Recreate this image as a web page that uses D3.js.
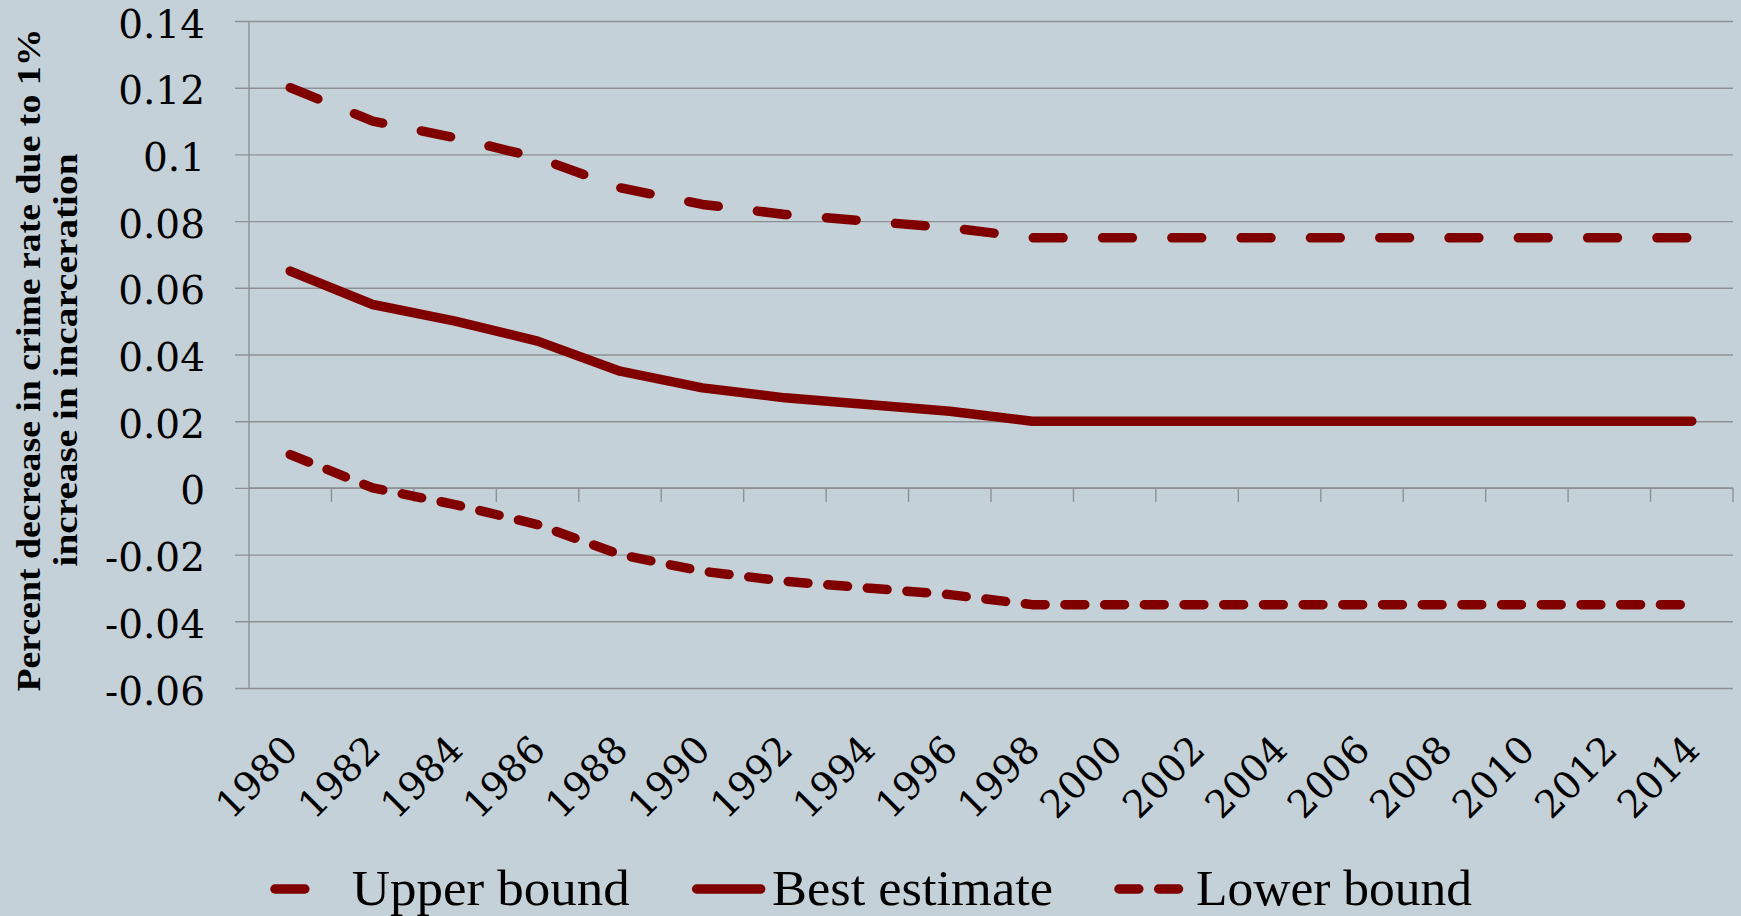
<!DOCTYPE html>
<html>
<head>
<meta charset="utf-8">
<script src="https://cdn.jsdelivr.net/npm/d3@7/dist/d3.min.js"></script>
<style>
  html, body { margin: 0; padding: 0; background: #c5d1d8; }
  svg { display: block; }
</style>
</head>
<body>
<svg id="chart" width="1741" height="916"></svg>
<script>
// ---- data ----
const years = ["1980","1982","1984","1986","1988","1990","1992","1994","1996","1998",
               "2000","2002","2004","2006","2008","2010","2012","2014"];
const upperBound   = [0.12, 0.11, 0.105, 0.099, 0.09, 0.085, 0.082, 0.08, 0.078, 0.075,
                      0.075, 0.075, 0.075, 0.075, 0.075, 0.075, 0.075, 0.075];
const bestEstimate = [0.065, 0.055, 0.05, 0.044, 0.035, 0.03, 0.027, 0.025, 0.023, 0.02,
                      0.02, 0.02, 0.02, 0.02, 0.02, 0.02, 0.02, 0.02];
const lowerBound   = [0.01, 0, -0.005, -0.011, -0.02, -0.025, -0.028, -0.03, -0.032, -0.035,
                      -0.035, -0.035, -0.035, -0.035, -0.035, -0.035, -0.035, -0.035];
const yTickValues = [0.14, 0.12, 0.1, 0.08, 0.06, 0.04, 0.02, 0, -0.02, -0.04, -0.06];
const yTickLabels = ["0.14","0.12","0.1","0.08","0.06","0.04","0.02","0","-0.02","-0.04","-0.06"];
const seriesNames = ["Upper bound", "Best estimate", "Lower bound"];
const yTitleLines = ["Percent decrease in crime rate due to 1%", "increase in incarceration"];

// ---- layout ----
const W = 1741, H = 916;
const plotL = 249, plotR = 1733, plotT = 21, plotB = 688;
const lineColor = "#800000";
const gridColor = "#8d9195";
const svg = d3.select("#chart");

svg.append("rect").attr("width", W).attr("height", H).attr("fill", "#c5d1d8");

const x = d3.scaleBand().domain(years).range([plotL, plotR]).padding(0);
const cx = d => x(d) + x.bandwidth() / 2;
const y = d3.scaleLinear().domain([-0.06, 0.14]).range([plotB, plotT]);

// gridlines + y labels via axis
const yAxis = d3.axisLeft(y)
  .tickValues(yTickValues)
  .tickSize(-(plotR - 235))
  .tickPadding(30)
  .tickFormat((d, i) => yTickLabels[i]);

const gy = svg.append("g").attr("transform", `translate(235,0)`).call(yAxis);
gy.select(".domain").remove();
gy.selectAll(".tick line").attr("stroke", gridColor).attr("stroke-width", 1.4);
gy.selectAll(".tick text")
  .attr("fill", "#000")
  .attr("font-family", "'DejaVu Serif', serif")
  .attr("font-size", 39)
  .attr("dy", null)
  .attr("y", 16);

// vertical axis line
svg.append("line")
  .attr("x1", plotL).attr("x2", plotL)
  .attr("y1", y(0.14)).attr("y2", y(-0.06))
  .attr("stroke", gridColor).attr("stroke-width", 1.4);

// horizontal axis at zero with ticks between categories
const y0 = y(0);
svg.append("line")
  .attr("x1", plotL).attr("x2", plotR)
  .attr("y1", y0).attr("y2", y0)
  .attr("stroke", gridColor).attr("stroke-width", 1.4);
const boundaries = years.map(d => x(d)).concat([x(years[years.length - 1]) + x.bandwidth()]);
svg.append("g").selectAll("line").data(boundaries.slice(1)).join("line")
  .attr("x1", d => d).attr("x2", d => d)
  .attr("y1", y0).attr("y2", y0 + 14)
  .attr("stroke", gridColor).attr("stroke-width", 1.4);

// x tick labels (rotated)
svg.append("g").selectAll("text").data(years).join("text")
  .attr("transform", d => `translate(${cx(d) + 10},752) rotate(-45)`)
  .attr("text-anchor", "end")
  .attr("font-family", "'DejaVu Serif', serif")
  .attr("font-size", 38)
  .attr("fill", "#000")
  .text(d => d);

// lines
const line = d3.line().x((d, i) => cx(years[i])).y(d => y(d));
const styles = [
  { data: upperBound, dash: "29.8,39.5" },
  { data: bestEstimate, dash: null },
  { data: lowerBound, dash: "19.8,19.9" }
];
styles.forEach(s => {
  svg.append("path")
    .datum(s.data)
    .attr("d", line)
    .attr("fill", "none")
    .attr("stroke", lineColor)
    .attr("stroke-width", 9.5)
    .attr("stroke-linecap", "round")
    .attr("stroke-linejoin", "round")
    .attr("stroke-dasharray", s.dash);
});

// y-axis title
const titleLen = [663, 413];
const titleBase = [40, 77];
yTitleLines.forEach((t, i) => {
  svg.append("text")
    .attr("transform", `translate(${titleBase[i]},360) rotate(-90)`)
    .attr("text-anchor", "middle")
    .attr("font-family", "'Liberation Serif', serif")
    .attr("font-weight", "bold")
    .attr("font-size", 33)
    .attr("textLength", titleLen[i])
    .attr("lengthAdjust", "spacingAndGlyphs")
    .attr("fill", "#000")
    .text(t);
});

// legend
const legendItems = [
  { lx: 275, tx: 351.7, tw: 278, dash: "29.8,39.5" },
  { lx: 696.7, tx: 772, tw: 281, dash: null },
  { lx: 1119, tx: 1196, tw: 276, dash: "19.8,19.9" }
];
legendItems.forEach((it, i) => {
  svg.append("line")
    .attr("x1", it.lx).attr("x2", it.lx + 64)
    .attr("y1", 889).attr("y2", 889)
    .attr("stroke", lineColor)
    .attr("stroke-width", 9.5)
    .attr("stroke-linecap", "round")
    .attr("stroke-dasharray", it.dash);
  svg.append("text")
    .attr("x", it.tx).attr("y", 905)
    .attr("font-family", "'Liberation Serif', serif")
    .attr("font-size", 50)
    .attr("textLength", it.tw)
    .attr("lengthAdjust", "spacingAndGlyphs")
    .attr("fill", "#000")
    .text(seriesNames[i]);
});
</script>
</body>
</html>
